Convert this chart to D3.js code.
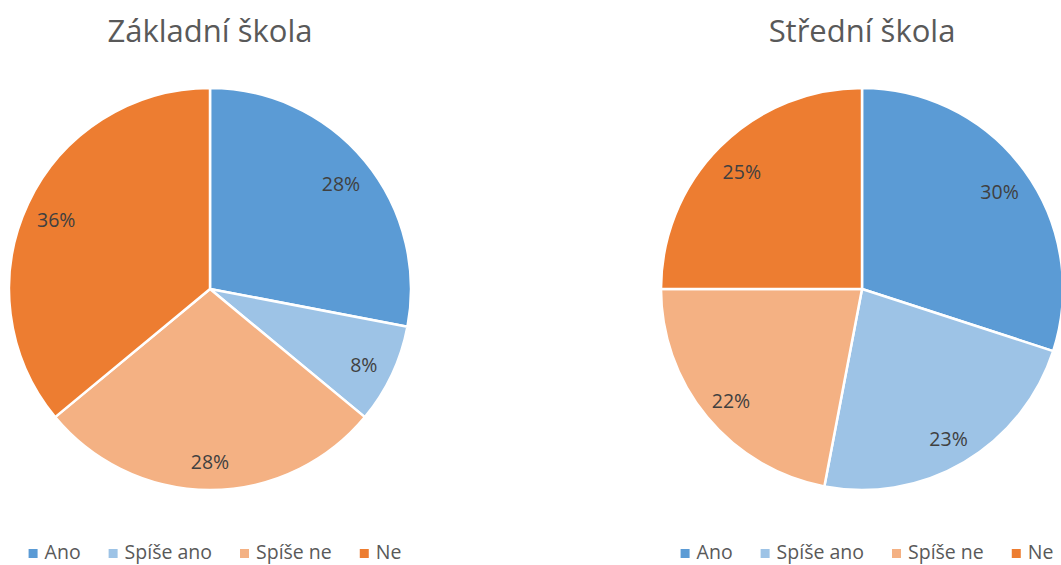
<!DOCTYPE html>
<html><head><meta charset="utf-8">
<script src="https://cdn.jsdelivr.net/npm/d3@7"></script>
<style>body{margin:0;background:#fff}svg{display:block}</style>
</head><body>
<svg id="c" width="1061" height="565"></svg>
<script>
const categories = ["Ano", "Spíše ano", "Spíše ne", "Ne"];
const colors = ["#5B9BD5", "#9DC3E6", "#F4B183", "#ED7D31"];
const titles = ["Základní škola", "Střední škola"];
const valuesZakladni = [28, 8, 28, 36];
const valuesStredni = [30, 23, 22, 25];

const W = 1061, H = 565;
const svg = d3.select("#c");
const font = "'Open Sans', 'Noto Sans', sans-serif";
const color = d3.scaleOrdinal().domain(categories).range(colors);
const panels = [
  {title: titles[0], values: valuesZakladni, cx: 210},
  {title: titles[1], values: valuesStredni, cx: 862}
];
const cy = 289, R = 201, labelR = 170;
const pie = d3.pie().sort(null).value(d => d.v);
const arc = d3.arc().innerRadius(0).outerRadius(R);
const labelArc = d3.arc().innerRadius(labelR).outerRadius(labelR);

panels.forEach(p => {
  const data = categories.map((c, i) => ({c, v: p.values[i]}));
  const total = d3.sum(p.values);
  const g = svg.append("g").attr("transform", `translate(${p.cx},${cy})`);
  const arcs = pie(data);
  g.selectAll("path").data(arcs).join("path")
    .attr("d", arc).attr("fill", d => color(d.data.c))
    .attr("stroke", "#fff").attr("stroke-width", 2.5).attr("stroke-linejoin", "round");
  g.selectAll("text.lbl").data(arcs).join("text").attr("class", "lbl")
    .attr("transform", d => { const [x, y] = labelArc.centroid(d); return `translate(${x},${y + 3.5})`; })
    .attr("text-anchor", "middle").attr("dy", "0.35em")
    .attr("font-family", font).attr("font-size", 19.5).attr("fill", "#404040")
    .text(d => d3.format(".0%")(d.data.v / total));

  svg.append("text").attr("x", p.cx).attr("y", 42)
    .attr("text-anchor", "middle").attr("font-family", font)
    .attr("font-size", 31).attr("fill", "#595959").text(p.title);

  // legend
  const lg = svg.append("g");
  const items = lg.selectAll("g").data(categories).join("g");
  items.append("rect").attr("width", 9).attr("height", 9).attr("y", -10)
    .attr("fill", d => color(d));
  const texts = items.append("text").attr("x", 16).attr("y", 0)
    .attr("font-family", font).attr("font-size", 19.5).attr("fill", "#595959").text(d => d);
  let x = 0;
  const gap = 28;
  items.each(function(d, i) {
    const w = 16 + texts.nodes()[i].getComputedTextLength();
    d3.select(this).attr("transform", `translate(${x},0)`);
    x += w + gap;
  });
  const totalW = x - gap;
  lg.attr("transform", `translate(${p.cx + 5 - totalW / 2},559)`);
});
</script>
</body></html>
